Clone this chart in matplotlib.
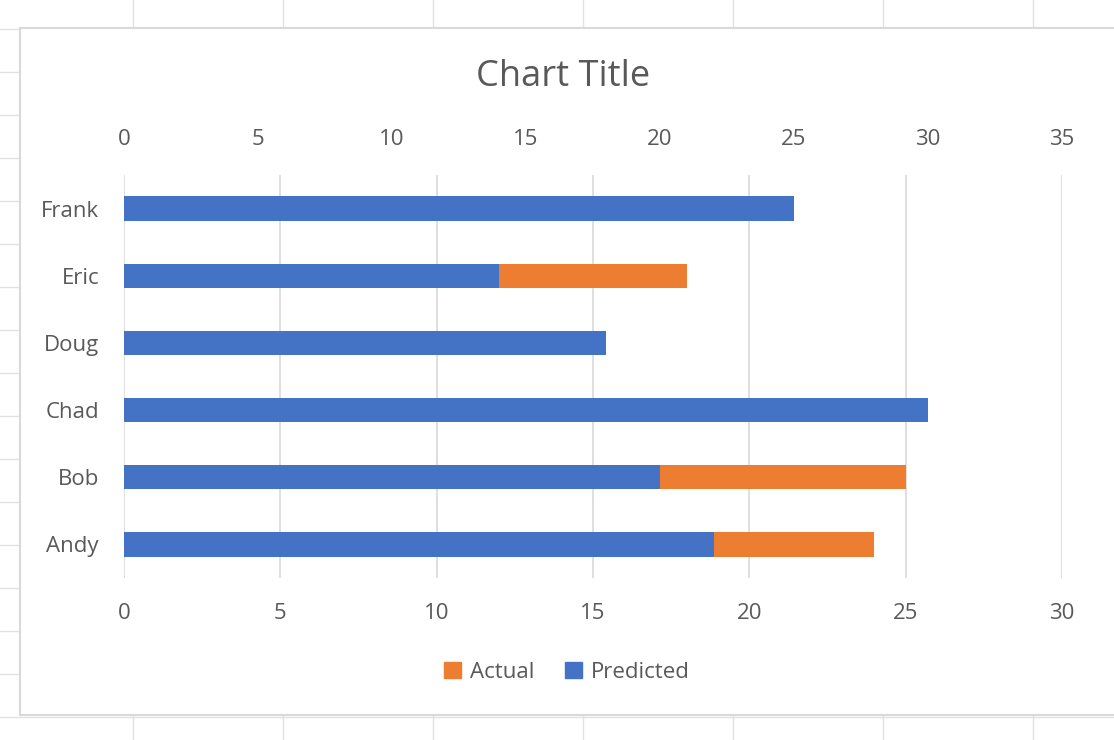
import matplotlib.pyplot as plt
from matplotlib.patches import Rectangle, Patch
from matplotlib.lines import Line2D

# данные
names = ['Andy', 'Bob', 'Chad', 'Doug', 'Eric', 'Frank']
actual = [24, 25, 25, 15, 18, 20]       # нижняя ось 0-30
predicted = [22, 20, 30, 18, 14, 25]    # верхняя ось 0-35
bottom_ticks = [0, 5, 10, 15, 20, 25, 30]
top_ticks = [0, 5, 10, 15, 20, 25, 30, 35]

blue = '#4472C4'
orange = '#ED7D31'
text_col = '#595959'
grid_col = '#D9D9D9'

plt.rcParams['font.family'] = ['Open Sans', 'DejaVu Sans']

W, H = 1114, 740
fig = plt.figure(figsize=(W / 100, H / 100), dpi=100)

# фон как в таблице Excel
for x in [133, 283, 433, 583, 733, 883, 1033]:
    fig.add_artist(Line2D([x / W, x / W], [0, 1], color='#E1E1E1', lw=1, zorder=0))
for y in range(29, 740, 43):
    fig.add_artist(Line2D([0, 1], [1 - y / H, 1 - y / H], color='#E1E1E1', lw=1, zorder=0))

# область диаграммы
fig.add_artist(Rectangle((20 / W, 1 - 715 / H), 1.1, (715 - 28) / H,
                         transform=fig.transFigure, facecolor='white',
                         edgecolor='#D9D9D9', lw=1.5, zorder=1))

ax = fig.add_axes([124 / W, 1 - 578 / H, (1062 - 124) / W, (578 - 175) / H])
ax.set_zorder(2)
ax.patch.set_visible(False)
ypos = range(len(names))
ax.barh(ypos, actual, height=0.36, color=orange, zorder=3)
ax.set_xlim(0, 30)
ax.set_ylim(-0.5, len(names) - 0.5)
ax.set_xticks(bottom_ticks)
ax.set_yticks(list(ypos))
ax.set_yticklabels(names)
ax.grid(axis='x', color=grid_col, lw=1.2, zorder=0)
ax.tick_params(axis='x', length=0, pad=18, labelsize=16, labelcolor=text_col)
ax.tick_params(axis='y', length=0, pad=18, labelsize=16, labelcolor=text_col)
for s in ax.spines.values():
    s.set_visible(False)

ax2 = ax.twiny()
ax2.barh(ypos, predicted, height=0.36, color=blue, zorder=3)
ax2.set_xlim(0, 35)
ax2.set_xticks(top_ticks)
ax2.tick_params(axis='x', length=0, pad=18, labelsize=16, labelcolor=text_col)
for s in ax2.spines.values():
    s.set_visible(False)

fig.text(563 / W, 1 - 77 / H, 'Chart Title', ha='center', va='center',
         fontsize=26, color=text_col)

handles = [Patch(color=orange, label='Actual'), Patch(color=blue, label='Predicted')]
fig.legend(handles=handles, loc='center', bbox_to_anchor=(567 / W, 1 - 672 / H),
           ncol=2, frameon=False, fontsize=16, labelcolor=text_col,
           handlelength=0.75, handleheight=0.75, handletextpad=0.4, columnspacing=1.4)

fig.savefig('out.png', dpi=100)
